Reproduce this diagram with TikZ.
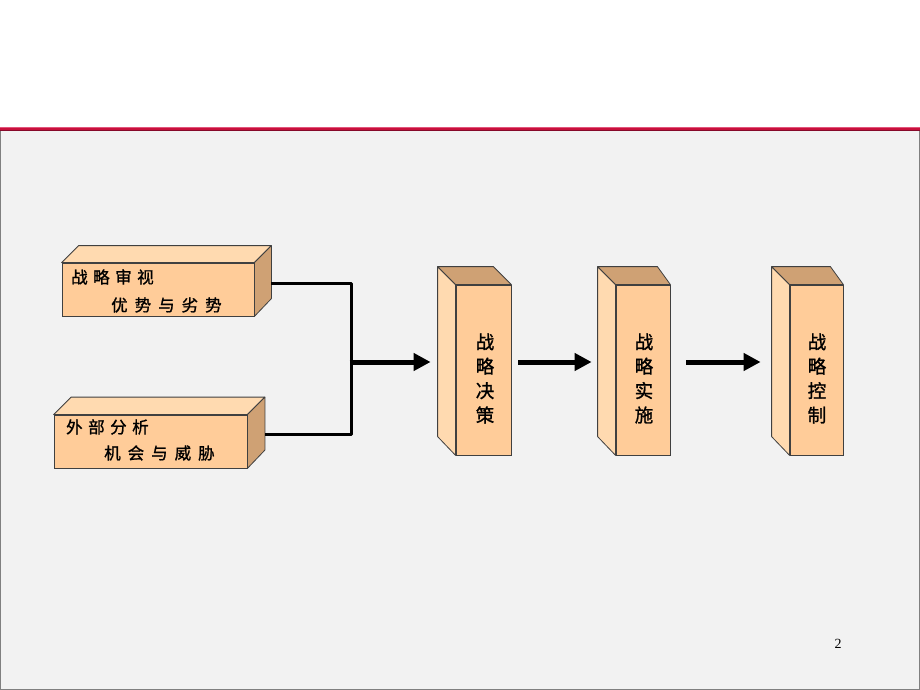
\documentclass[tikz,border=0pt]{standalone}
\usepackage{fontspec}
\setmainfont{Liberation Serif}
\newfontfamily\cjk[FakeBold=1.2]{Noto Sans CJK SC}
\usetikzlibrary{arrows.meta,calc}
\definecolor{bg}{HTML}{F2F2F2}
\definecolor{peach}{HTML}{FFCC99}
\definecolor{peachlight}{HTML}{FFDAB0}
\definecolor{peachdark}{HTML}{CFA174}
\definecolor{edge}{HTML}{404040}
\definecolor{bandpink}{HTML}{E2557C}
\definecolor{bandred}{HTML}{C8103C}
\definecolor{banddark}{HTML}{86092A}
\tikzset{
  front/.style={draw=edge, line width=0.8pt, fill=peach, inner sep=0pt},
  lightface/.style={draw=edge, line width=0.8pt, fill=peachlight, line join=round},
  darkface/.style={draw=edge, line width=0.8pt, fill=peachdark, line join=round},
  htext/.style={font=\cjk\fontsize{16.5}{16.5}\selectfont, anchor=west, inner sep=0pt},
  vtext/.style={font=\cjk\fontsize{18.5}{24.4}\selectfont, align=center, inner sep=0pt},
  bracket/.style={line width=3pt, line join=round, black},
  arr/.style={line width=5pt, black, -{Triangle[length=17pt,width=17pt]}},
}
\begin{document}
\begin{tikzpicture}[x=1pt,y=-1pt]
\useasboundingbox (0,0) rectangle (920,690);
\fill[white] (0,0) rectangle (920,690);
\fill[bg] (0,130) rectangle (920,690);
\draw[gray, line width=1pt] (0.5,130) -- (0.5,689.5) -- (919.5,689.5) -- (919.5,130);
\fill[bandpink] (0,126.8) rectangle (920,128.2);
\fill[bandred] (0,128.2) rectangle (920,129.6);
\fill[banddark] (0,129.6) rectangle (920,130.6);

% horizontal boxes
\node[front, minimum width=192pt, minimum height=53pt] (b1) at (158,289.5) {};
\filldraw[lightface] (b1.north west) -- ++(17,-17) -- ($(b1.north east)+(17,-17)$) -- (b1.north east) -- cycle;
\filldraw[darkface] (b1.north east) -- ++(17,-17) -- ++(0,53) -- (b1.south east) -- cycle;
\node[htext] (b1a) at (71,277) {战\hspace{5.5pt}略\hspace{5.5pt}审\hspace{5.5pt}视};
\node[htext] (b1b) at (111,305) {优\hspace{7pt}势\hspace{7pt}与\hspace{7pt}劣\hspace{7pt}势};

\node[front, minimum width=193pt, minimum height=53pt] (b2) at (150.5,441.5) {};
\filldraw[lightface] (b2.north west) -- ++(17.5,-17.5) -- ($(b2.north east)+(17.5,-17.5)$) -- (b2.north east) -- cycle;
\filldraw[darkface] (b2.north east) -- ++(17.5,-17.5) -- ++(0,53) -- (b2.south east) -- cycle;
\node[htext] (b2a) at (66,427) {外\hspace{5.5pt}部\hspace{5.5pt}分\hspace{5.5pt}析};
\node[htext] (b2b) at (104,453) {机\hspace{7pt}会\hspace{7pt}与\hspace{7pt}威\hspace{7pt}胁};

% tall boxes
\node[front, minimum width=55pt, minimum height=170pt] (d1) at (483.5,370) {};
\filldraw[lightface] (d1.north west) -- ++(-18,-18) -- ++(0,170) -- (d1.south west) -- cycle;
\filldraw[darkface] (d1.north west) -- ++(-18,-18) -- ($(d1.north east)+(-18,-18)$) -- (d1.north east) -- cycle;
\node[vtext] (d1t) at (485,378.5) {战\\略\\决\\策};

\node[front, minimum width=54pt, minimum height=170pt] (d2) at (643,370) {};
\filldraw[lightface] (d2.north west) -- ++(-18,-18) -- ++(0,170) -- (d2.south west) -- cycle;
\filldraw[darkface] (d2.north west) -- ++(-18,-18) -- ($(d2.north east)+(-13,-18)$) -- (d2.north east) -- cycle;
\node[vtext] (d2t) at (644,378.5) {战\\略\\实\\施};

\node[front, minimum width=53pt, minimum height=170pt] (d3) at (816.5,370) {};
\filldraw[lightface] (d3.north west) -- ++(-18,-18) -- ++(0,170) -- (d3.south west) -- cycle;
\filldraw[darkface] (d3.north west) -- ++(-18,-18) -- ($(d3.north east)+(-13,-18)$) -- (d3.north east) -- cycle;
\node[vtext] (d3t) at (817,378.5) {战\\略\\控\\制};

% connectors
\coordinate (b1s) at ($(b1.east)+(17,-6.5)$);
\coordinate (b2s) at ($(b2.east)+(17.5,-7.5)$);
\coordinate (j) at (351,362);
\draw[bracket] (b1s) -| (j) |- (b2s);
\draw[arr] ($(j)+(-1.5,0)$) -- ($(d1.west)+(-25,-8)$);
\draw[arr] ($(d1.east)+(7,-8)$) -- ($(d2.west)+(-24,-8)$);
\draw[arr] ($(d2.east)+(16,-8)$) -- ($(d3.west)+(-29,-8)$);

\node[font=\fontsize{14}{14}\selectfont, inner sep=0pt] (pg) at (838,644) {2};
\end{tikzpicture}
\end{document}
